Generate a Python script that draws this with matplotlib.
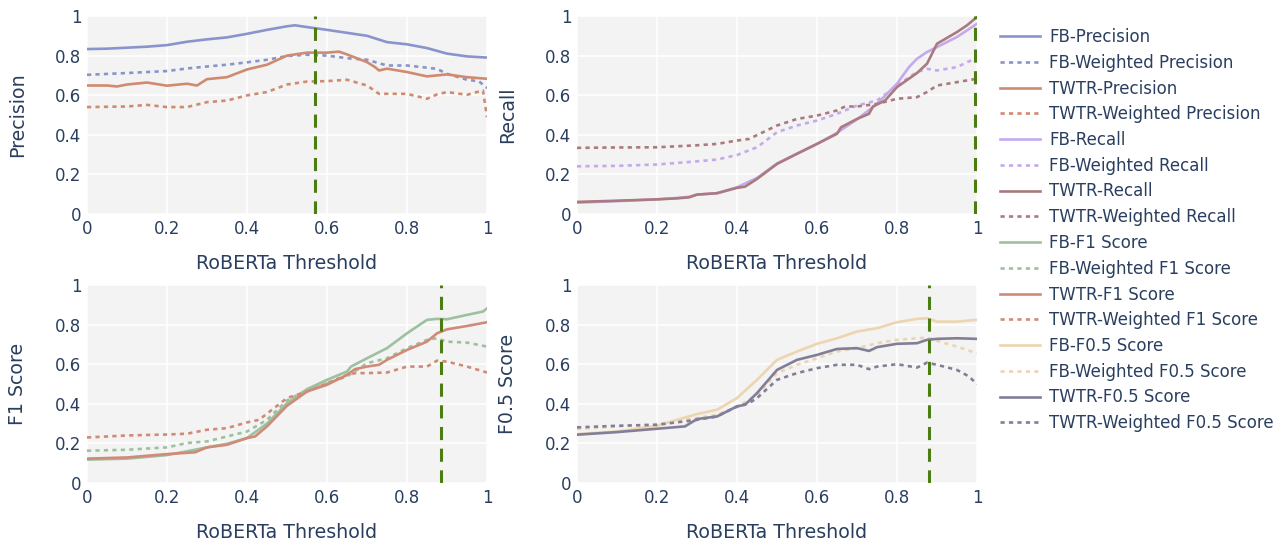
import matplotlib
matplotlib.use("Agg")
import matplotlib.pyplot as plt

# ---------------- data ----------------
# Precision panel
fb_prec_x = [0, 0.05, 0.1, 0.15, 0.2, 0.25, 0.3, 0.35, 0.4, 0.45, 0.5, 0.52, 0.55, 0.575, 0.6, 0.65, 0.7, 0.75, 0.8, 0.85, 0.9, 0.95, 1.0]
fb_prec_y = [0.833, 0.835, 0.84, 0.845, 0.853, 0.87, 0.882, 0.892, 0.91, 0.93, 0.948, 0.953, 0.944, 0.937, 0.93, 0.915, 0.90, 0.868, 0.857, 0.838, 0.81, 0.796, 0.79]

fb_wprec_x = [0, 0.1, 0.2, 0.25, 0.3, 0.35, 0.4, 0.45, 0.5, 0.55, 0.6, 0.65, 0.7, 0.75, 0.8, 0.85, 0.875, 0.9, 0.95, 0.98, 1.0]
fb_wprec_y = [0.703, 0.712, 0.722, 0.735, 0.745, 0.754, 0.766, 0.779, 0.798, 0.804, 0.80, 0.787, 0.779, 0.75, 0.75, 0.739, 0.733, 0.708, 0.678, 0.67, 0.636]

tw_prec_x = [0, 0.05, 0.075, 0.1, 0.15, 0.2, 0.25, 0.275, 0.3, 0.35, 0.4, 0.45, 0.5, 0.55, 0.6, 0.63, 0.65, 0.7, 0.72, 0.73, 0.75, 0.8, 0.85, 0.9, 0.95, 1.0]
tw_prec_y = [0.649, 0.649, 0.644, 0.654, 0.664, 0.648, 0.658, 0.649, 0.681, 0.691, 0.73, 0.754, 0.80, 0.815, 0.815, 0.82, 0.806, 0.767, 0.742, 0.725, 0.734, 0.717, 0.695, 0.705, 0.691, 0.683]

tw_wprec_x = [0, 0.1, 0.15, 0.2, 0.25, 0.3, 0.35, 0.4, 0.45, 0.5, 0.55, 0.6, 0.65, 0.7, 0.73, 0.75, 0.8, 0.85, 0.875, 0.9, 0.95, 0.975, 0.99, 1.0]
tw_wprec_y = [0.54, 0.543, 0.551, 0.54, 0.54, 0.565, 0.573, 0.599, 0.616, 0.654, 0.669, 0.671, 0.678, 0.649, 0.607, 0.607, 0.607, 0.582, 0.604, 0.616, 0.602, 0.616, 0.624, 0.489]

# Recall panel
fb_rec_x = [0, 0.1, 0.2, 0.25, 0.28, 0.3, 0.35, 0.4, 0.45, 0.5, 0.55, 0.6, 0.65, 0.7, 0.75, 0.8, 0.83, 0.85, 0.875, 0.9, 0.95, 1.0]
fb_rec_y = [0.057, 0.065, 0.074, 0.081, 0.087, 0.098, 0.105, 0.135, 0.182, 0.255, 0.305, 0.354, 0.41, 0.478, 0.556, 0.658, 0.742, 0.784, 0.818, 0.843, 0.894, 0.961]

tw_rec_x = [0, 0.1, 0.2, 0.25, 0.28, 0.3, 0.35, 0.4, 0.42, 0.45, 0.5, 0.55, 0.57, 0.6, 0.65, 0.66, 0.7, 0.73, 0.74, 0.77, 0.8, 0.85, 0.875, 0.9, 0.95, 0.975, 1.0]
tw_rec_y = [0.061, 0.067, 0.074, 0.079, 0.084, 0.098, 0.105, 0.132, 0.138, 0.177, 0.253, 0.304, 0.324, 0.354, 0.405, 0.438, 0.48, 0.506, 0.543, 0.573, 0.641, 0.712, 0.759, 0.86, 0.919, 0.953, 0.995]

fb_wrec_x = [0, 0.1, 0.2, 0.3, 0.35, 0.4, 0.45, 0.5, 0.55, 0.6, 0.65, 0.7, 0.75, 0.8, 0.85, 0.875, 0.9, 0.95, 1.0]
fb_wrec_y = [0.241, 0.243, 0.25, 0.266, 0.275, 0.298, 0.337, 0.413, 0.447, 0.472, 0.506, 0.548, 0.573, 0.649, 0.717, 0.733, 0.725, 0.742, 0.79]

tw_wrec_x = [0, 0.1, 0.2, 0.3, 0.35, 0.4, 0.43, 0.5, 0.55, 0.6, 0.65, 0.67, 0.7, 0.75, 0.8, 0.85, 0.875, 0.9, 0.95, 1.0]
tw_wrec_y = [0.334, 0.336, 0.337, 0.347, 0.354, 0.371, 0.379, 0.447, 0.48, 0.497, 0.523, 0.543, 0.543, 0.556, 0.582, 0.59, 0.616, 0.649, 0.666, 0.683]

# F1 panel
fb_f1_x = [0, 0.1, 0.2, 0.25, 0.3, 0.35, 0.4, 0.45, 0.5, 0.55, 0.6, 0.65, 0.66, 0.7, 0.75, 0.8, 0.85, 0.875, 0.9, 0.95, 0.99, 1.0]
fb_f1_y = [0.118, 0.123, 0.141, 0.16, 0.18, 0.198, 0.227, 0.30, 0.403, 0.474, 0.521, 0.563, 0.588, 0.63, 0.681, 0.756, 0.824, 0.829, 0.827, 0.849, 0.866, 0.882]

tw_f1_x = [0, 0.1, 0.2, 0.27, 0.3, 0.35, 0.4, 0.42, 0.45, 0.5, 0.55, 0.6, 0.65, 0.67, 0.7, 0.73, 0.75, 0.8, 0.85, 0.875, 0.9, 0.95, 1.0]
tw_f1_y = [0.123, 0.129, 0.146, 0.155, 0.18, 0.193, 0.227, 0.235, 0.286, 0.39, 0.462, 0.496, 0.546, 0.575, 0.588, 0.597, 0.622, 0.672, 0.714, 0.756, 0.776, 0.793, 0.812]

fb_wf1_x = [0, 0.1, 0.2, 0.25, 0.3, 0.35, 0.4, 0.45, 0.5, 0.55, 0.6, 0.65, 0.7, 0.75, 0.8, 0.85, 0.875, 0.9, 0.95, 1.0]
fb_wf1_y = [0.163, 0.168, 0.18, 0.202, 0.21, 0.235, 0.26, 0.319, 0.417, 0.47, 0.504, 0.538, 0.605, 0.63, 0.681, 0.723, 0.731, 0.714, 0.709, 0.689]

tw_wf1_x = [0, 0.1, 0.2, 0.25, 0.3, 0.35, 0.4, 0.43, 0.5, 0.55, 0.6, 0.65, 0.67, 0.7, 0.75, 0.8, 0.85, 0.875, 0.9, 0.95, 1.0]
tw_wf1_y = [0.23, 0.24, 0.245, 0.249, 0.269, 0.277, 0.306, 0.319, 0.429, 0.462, 0.504, 0.546, 0.555, 0.555, 0.558, 0.588, 0.588, 0.618, 0.613, 0.588, 0.558]

# F0.5 panel
fb_f05_x = [0, 0.1, 0.2, 0.25, 0.3, 0.35, 0.4, 0.45, 0.5, 0.55, 0.6, 0.65, 0.7, 0.75, 0.8, 0.85, 0.875, 0.9, 0.95, 1.0]
fb_f05_y = [0.247, 0.26, 0.289, 0.319, 0.348, 0.37, 0.429, 0.521, 0.622, 0.664, 0.703, 0.731, 0.765, 0.782, 0.812, 0.829, 0.832, 0.815, 0.815, 0.824]

tw_f05_x = [0, 0.1, 0.2, 0.27, 0.3, 0.35, 0.4, 0.42, 0.45, 0.5, 0.55, 0.6, 0.65, 0.7, 0.73, 0.75, 0.8, 0.85, 0.875, 0.9, 0.95, 1.0]
tw_f05_y = [0.244, 0.257, 0.274, 0.286, 0.323, 0.336, 0.387, 0.395, 0.454, 0.571, 0.622, 0.647, 0.677, 0.681, 0.667, 0.686, 0.703, 0.706, 0.723, 0.728, 0.731, 0.728]

fb_wf05_x = [0, 0.1, 0.2, 0.3, 0.35, 0.4, 0.45, 0.5, 0.55, 0.6, 0.65, 0.7, 0.75, 0.8, 0.85, 0.875, 0.9, 0.95, 1.0]
fb_wf05_y = [0.272, 0.286, 0.297, 0.328, 0.345, 0.383, 0.445, 0.555, 0.597, 0.63, 0.664, 0.681, 0.706, 0.723, 0.731, 0.734, 0.718, 0.689, 0.655]

tw_wf05_x = [0, 0.1, 0.2, 0.3, 0.35, 0.4, 0.43, 0.45, 0.5, 0.55, 0.6, 0.65, 0.7, 0.73, 0.75, 0.8, 0.85, 0.875, 0.9, 0.95, 0.98, 1.0]
tw_wf05_y = [0.281, 0.289, 0.294, 0.319, 0.336, 0.387, 0.403, 0.429, 0.521, 0.555, 0.58, 0.597, 0.597, 0.575, 0.588, 0.60, 0.583, 0.608, 0.597, 0.571, 0.538, 0.499]

# best thresholds (vertical markers)
best_thresholds = [0.569, 0.996, 0.886, 0.88]

y_titles = ["Precision", "Recall", "F1 Score", "F0.5 Score"]
x_title = "RoBERTa Threshold"
tick_vals = [0, 0.2, 0.4, 0.6, 0.8, 1.0]
tick_labels = ["0", "0.2", "0.4", "0.6", "0.8", "1"]

# ---------------- style ----------------
TXT = "#2a3f5f"
BG = "#f3f3f3"
VCOL = "#4b7d13"
plt.rcParams['font.family'] = ['DejaVu Sans']

W, H = 1282, 545
fig = plt.figure(figsize=(W / 100, H / 100), dpi=100)

def fig_axes(left_px, top_px, w_px=400, h_px=198):
    return fig.add_axes([left_px / W, 1 - (top_px + h_px) / H, w_px / W, h_px / H])

axes = [fig_axes(87, 16), fig_axes(577, 16), fig_axes(87, 285), fig_axes(577, 285)]

LW = 1.9
DOT = (0, (1.6, 1.6))

series = [
    # (axis index, x, y, color, style, label)
    (0, fb_prec_x, fb_prec_y, "#8a94cc", "-", "FB-Precision"),
    (0, fb_wprec_x, fb_wprec_y, "#8a94cc", DOT, "FB-Weighted Precision"),
    (0, tw_prec_x, tw_prec_y, "#d08a70", "-", "TWTR-Precision"),
    (0, tw_wprec_x, tw_wprec_y, "#d08a70", DOT, "TWTR-Weighted Precision"),
    (1, fb_rec_x, fb_rec_y, "#c4aaeb", "-", "FB-Recall"),
    (1, fb_wrec_x, fb_wrec_y, "#c4aaeb", DOT, "FB-Weighted Recall"),
    (1, tw_rec_x, tw_rec_y, "#aa7a7e", "-", "TWTR-Recall"),
    (1, tw_wrec_x, tw_wrec_y, "#aa7a7e", DOT, "TWTR-Weighted Recall"),
    (2, fb_f1_x, fb_f1_y, "#9dc19f", "-", "FB-F1 Score"),
    (2, fb_wf1_x, fb_wf1_y, "#9dc19f", DOT, "FB-Weighted F1 Score"),
    (2, tw_f1_x, tw_f1_y, "#d08a78", "-", "TWTR-F1 Score"),
    (2, tw_wf1_x, tw_wf1_y, "#d08a78", DOT, "TWTR-Weighted F1 Score"),
    (3, fb_f05_x, fb_f05_y, "#ecd5b0", "-", "FB-F0.5 Score"),
    (3, fb_wf05_x, fb_wf05_y, "#ecd5b0", DOT, "FB-Weighted F0.5 Score"),
    (3, tw_f05_x, tw_f05_y, "#827e98", "-", "TWTR-F0.5 Score"),
    (3, tw_wf05_x, tw_wf05_y, "#827e98", DOT, "TWTR-Weighted F0.5 Score"),
]

handles = []
for ai, x, y, c, ls, lab in series:
    ln, = axes[ai].plot(x, y, color=c, linestyle=ls, linewidth=LW, label=lab, zorder=3)
    handles.append(ln)

for i, ax in enumerate(axes):
    ax.set_facecolor(BG)
    ax.set_xlim(0, 1)
    ax.set_ylim(0, 1)
    for s in ax.spines.values():
        s.set_visible(False)
    ax.set_xticks(tick_vals)
    ax.set_xticklabels(tick_labels)
    ax.set_yticks(tick_vals)
    ax.set_yticklabels(tick_labels)
    ax.tick_params(length=0, labelsize=12, labelcolor=TXT, pad=4)
    ax.grid(True, color="white", linewidth=1.1, zorder=0)
    ax.set_axisbelow(True)
    ax.set_xlabel(x_title, fontsize=13.7, color=TXT)
    ax.set_ylabel(y_titles[i], fontsize=13.7, color=TXT)
    ax.xaxis.set_label_coords(0.5, -0.2)
    ax.yaxis.set_label_coords(-0.15, 0.5)
    ax.axvline(best_thresholds[i], color=VCOL, linewidth=2.2,
               linestyle=(0, (4.3, 2.8)), zorder=4)

fig.legend(handles=handles, loc="upper left", bbox_to_anchor=(1000 / W, 1 - 28 / H),
           frameon=False, fontsize=12, labelcolor=TXT, handlelength=2.4,
           handletextpad=0.55, labelspacing=0.465, borderaxespad=0, borderpad=0)

fig.savefig("out.png", dpi=100, facecolor="white")
